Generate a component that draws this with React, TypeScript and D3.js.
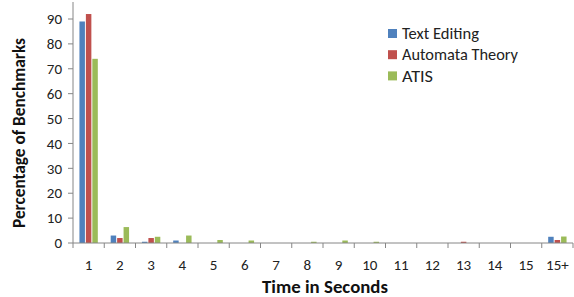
import React from "react";
import * as d3 from "d3";

const categories = ["1","2","3","4","5","6","7","8","9","10","11","12","13","14","15","15+"];
const textEditing = [89, 3, 0.5, 1, 0, 0, 0, 0, 0, 0, 0, 0, 0, 0, 0, 2.5];
const automataTheory = [92, 2, 2, 0, 0, 0, 0, 0, 0, 0, 0, 0, 0.5, 0, 0, 1.2];
const atis = [74, 6.4, 2.5, 3, 1.2, 1, 0, 0.5, 1, 0.5, 0, 0, 0, 0, 0, 2.6];
const seriesNames = ["Text Editing", "Automata Theory", "ATIS"];
const colors = ["#4F81BD", "#C0504D", "#9BBB59"];
const yTicks = [0, 10, 20, 30, 40, 50, 60, 70, 80, 90];

export default function App() {
  const W = 574, H = 297;
  const left = 73, right = 573, bottom = 243;
  const series = [textEditing, automataTheory, atis];
  const x = d3.scaleBand().domain(categories).range([left, right]);
  const inner = d3.scaleBand().domain(["0", "1", "2"]).range([0, x.bandwidth()]).paddingInner(0.15).paddingOuter(1.0);
  const y = d3.scaleLinear().domain([0, 90]).range([bottom, 19]);
  const font = "Carlito, Lato, 'Open Sans', sans-serif";
  const axisColor = "#868686";
  const legendW = [77, 116, 31];
  return (
    <svg width={W} height={H} style={{ position: "absolute", left: 0, top: 0, background: "#fff" }} fontFamily={font}>
      {series.map((vals, si) =>
        vals.map((v, i) => (
          <rect key={si + "-" + i}
            x={(x(categories[i]) as number) + (inner(String(si)) as number)}
            y={y(v)} width={inner.bandwidth()} height={bottom - y(v)} fill={colors[si]} />
        ))
      )}
      <line x1={left} x2={left} y1={2} y2={bottom} stroke={axisColor} strokeWidth={1} />
      <line x1={left} x2={right} y1={bottom} y2={bottom} stroke={axisColor} strokeWidth={1} />
      {yTicks.map(t => (
        <g key={t}>
          <line x1={left - 5} x2={left} y1={y(t)} y2={y(t)} stroke={axisColor} />
          <text x={left - 11} y={y(t)} dy="0.35em" textAnchor="end" fontSize={15} fill="#222">{t}</text>
        </g>
      ))}
      {categories.map((c, i) => (
        <g key={c}>
          <line x1={(x(c) as number)} x2={(x(c) as number)} y1={bottom} y2={bottom + 5} stroke={axisColor} />
          <text x={(x(c) as number) + x.bandwidth() / 2} y={bottom + 27} textAnchor="middle" fontSize={15} fill="#222">{c}</text>
        </g>
      ))}
      <line x1={right} x2={right} y1={bottom} y2={bottom + 5} stroke={axisColor} />
      <text x={325} y={293} textAnchor="middle" fontSize={17} fontWeight="bold" fill="#111" textLength={126} lengthAdjust="spacingAndGlyphs">Time in Seconds</text>
      <text transform={`translate(25,133) rotate(-90)`} textAnchor="middle" fontSize={17} fontWeight="bold" fill="#111" textLength={190} lengthAdjust="spacingAndGlyphs">Percentage of Benchmarks</text>
      {seriesNames.map((n, i) => (
        <g key={n}>
          <rect x={388} y={29 + i * 21.2} width={9} height={9} fill={colors[i]} />
          <text x={402} y={33.5 + i * 21.2} dy="0.35em" fontSize={16} fill="#222" textLength={legendW[i]} lengthAdjust="spacingAndGlyphs">{n}</text>
        </g>
      ))}
    </svg>
  );
}
